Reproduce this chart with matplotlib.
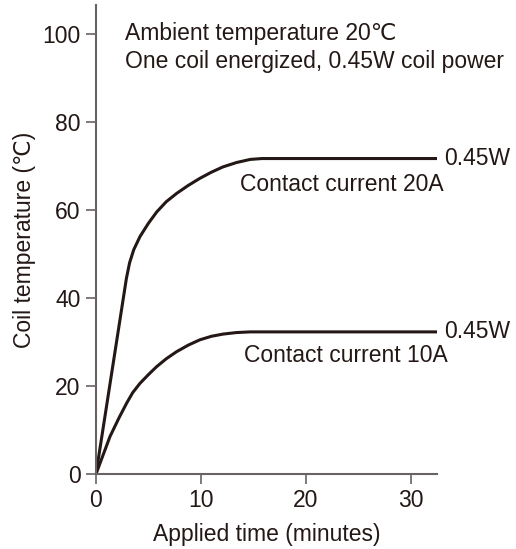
import matplotlib
matplotlib.use("Agg")
import matplotlib.pyplot as plt

plt.rcParams['font.family'] = ['Liberation Sans', 'DejaVu Sans', 'Noto Sans CJK JP']

time_20a = [0, 2.9, 3.2, 3.6, 4.2, 5.0, 5.8, 6.7, 7.7, 8.8, 9.9, 11.0, 12.1, 13.4, 14.7, 15.8, 32.5]
temp_20a = [0, 44.5, 48, 51, 54, 57, 59.6, 61.9, 63.8, 65.6, 67.2, 68.6, 69.8, 70.8, 71.5, 71.7, 71.7]
time_10a = [0, 1.33, 2.2, 2.92, 3.5, 4.19, 5.0, 5.78, 6.7, 7.68, 8.8, 9.9, 11.0, 12.1, 13.4, 14.7, 32.5]
temp_10a = [0, 8.5, 12.8, 16.1, 18.5, 20.6, 22.6, 24.4, 26.2, 27.8, 29.3, 30.5, 31.3, 31.8, 32.15, 32.3, 32.3]
x_ticks = [0, 10, 20, 30]
y_ticks = [0, 20, 40, 60, 80, 100]

line_c = '#231815'
axis_c = '#6a6262'
fs = 16.5

fig = plt.figure(figsize=(5.16, 5.49), dpi=100)
ax = fig.add_axes([96/516, 1-474/549, (437-96)/516, (474-5)/549])
ax.plot(time_20a, temp_20a, color=line_c, lw=2.2, solid_joinstyle='round')
ax.plot(time_10a, temp_10a, color=line_c, lw=2.2, solid_joinstyle='round')
ax.set_xlim(0, 32.5)
ax.set_ylim(0, 106.6)
for s in ['top', 'right']:
    ax.spines[s].set_visible(False)
for s in ['left', 'bottom']:
    ax.spines[s].set_color(axis_c)
    ax.spines[s].set_linewidth(1.5)
ax.set_xticks(x_ticks)
ax.set_yticks(y_ticks)
ax.tick_params(axis='both', colors=axis_c, length=7, width=1.2, labelsize=fs, labelcolor='#231815', pad=4)
ax.set_xlabel('Applied time (minutes)', fontsize=fs, color='#231815', labelpad=8)
ax.set_ylabel('Coil temperature (℃)', fontsize=fs, color='#231815', labelpad=5)

ax.text(2.8, 100.2, 'Ambient temperature 20℃', fontsize=fs, color='#231815', va='center')
ax.text(2.8, 93.7, 'One coil energized, 0.45W coil power', fontsize=fs, color='#231815', va='center')
ax.text(33.2, 71.8, '0.45W', fontsize=fs, color='#231815', va='center', clip_on=False)
ax.text(33.2, 32.3, '0.45W', fontsize=fs, color='#231815', va='center', clip_on=False)
ax.text(13.7, 65.9, 'Contact current 20A', fontsize=fs, color='#231815', va='center')
ax.text(14.1, 27.0, 'Contact current 10A', fontsize=fs, color='#231815', va='center')

fig.savefig('out.png', dpi=100)
